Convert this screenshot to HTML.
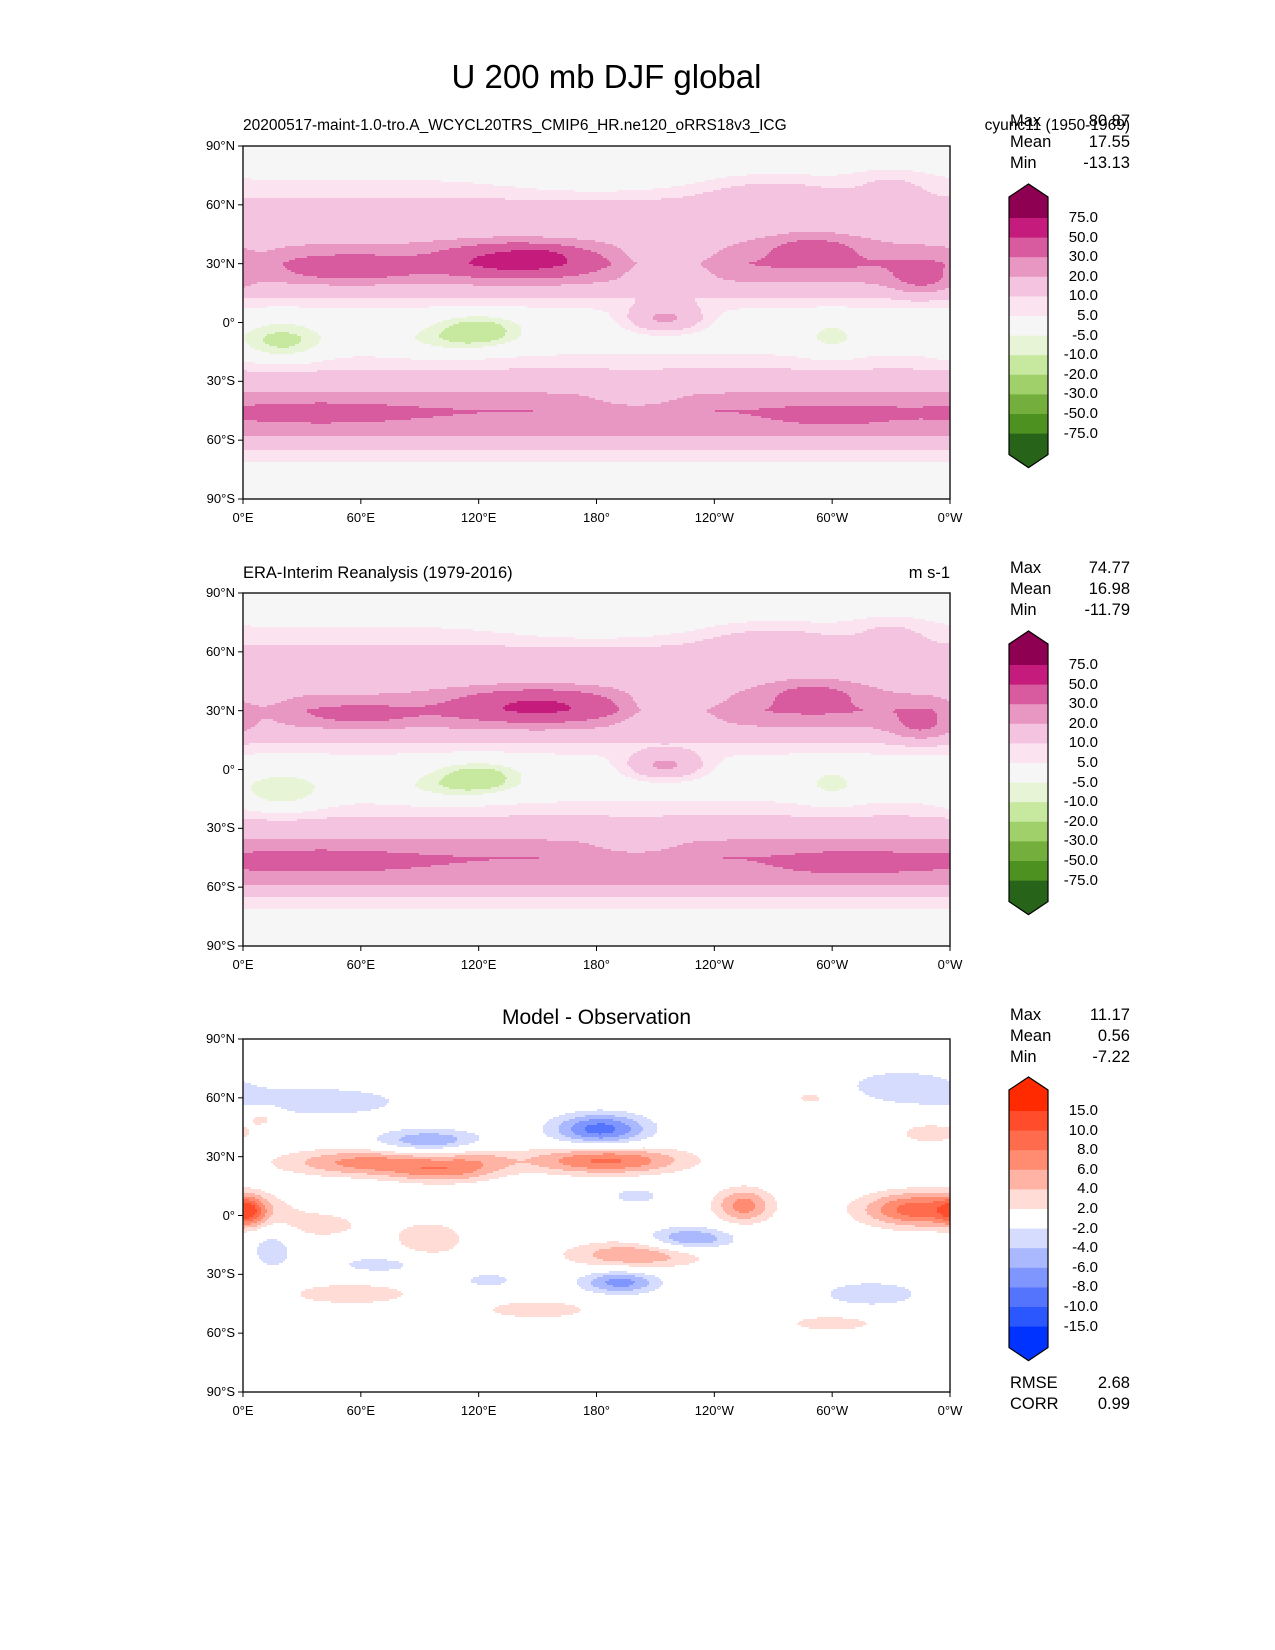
<!DOCTYPE html>
<html><head><meta charset="utf-8">
<style>
html,body{margin:0;padding:0;background:#fff;overflow:hidden;width:1275px;height:1650px}
#root{position:relative;width:1275px;height:1650px;font-family:"Liberation Sans","DejaVu Sans",sans-serif;color:#000;overflow:hidden}
.t{position:absolute;white-space:nowrap}
.tl{font-size:13px}
</style></head><body>
<div id="root">
<svg id="maps" width="1275" height="1650" style="position:absolute;left:0;top:0"></svg>
<svg id="ov" width="1275" height="1650" style="position:absolute;left:0;top:0"></svg>
<div class="t" style="left:0;width:1213px;text-align:center;top:58px;font-size:33px">U 200 mb DJF global</div>
<div class="t" style="left:243px;top:117px;font-size:15.5px">20200517-maint-1.0-tro.A_WCYCL20TRS_CMIP6_HR.ne120_oRRS18v3_ICG</div>
<div class="t" style="right:145px;top:117px;font-size:15.5px">cyunc11 (1950-1969)</div>
<div class="t" style="left:243px;top:564px;font-size:16.5px">ERA-Interim Reanalysis (1979-2016)</div>
<div class="t" style="right:325px;top:564px;font-size:16.5px">m s-1</div>
<div class="t" style="left:0;width:1193px;text-align:center;top:1006px;font-size:21px">Model - Observation</div>
<div>
<div class="t" style="left:1010px;top:111px;font-size:16.5px;line-height:21px">Max<br>Mean<br>Min</div>
<div class="t" style="right:145px;top:111px;font-size:16.5px;line-height:21px;text-align:right">80.87<br>17.55<br>-13.13</div></div>
<div>
<div class="t" style="left:1010px;top:558px;font-size:16.5px;line-height:21px">Max<br>Mean<br>Min</div>
<div class="t" style="right:145px;top:558px;font-size:16.5px;line-height:21px;text-align:right">74.77<br>16.98<br>-11.79</div></div>
<div>
<div class="t" style="left:1010px;top:1005px;font-size:16.5px;line-height:21px">Max<br>Mean<br>Min</div>
<div class="t" style="right:145px;top:1005px;font-size:16.5px;line-height:21px;text-align:right">11.17<br>0.56<br>-7.22</div></div>
<div>
<div class="t" style="left:1010px;top:1373px;font-size:16.5px;line-height:21px">RMSE<br>CORR</div>
<div class="t" style="right:145px;top:1373px;font-size:16.5px;line-height:21px;text-align:right">2.68<br>0.99</div></div>
</div>
<script>
// ---- data ----
var lvlA=[-75,-50,-30,-20,-10,-5,5,10,20,30,50,75];
var colA=["#276419","#4d9221","#74ae3c","#9fd06a","#c7e89f","#e8f4d6","#f6f6f6","#fbe3f0","#f4c3df","#e897c3","#d75b9e","#c51b7d","#8e0152"];
var lvlD=[-15,-10,-8,-6,-4,-2,2,4,6,8,10,15];
var colD=["#0033ff","#2b57ff","#5574fe","#7f96fe","#aab8fe","#d6dcfe","#ffffff","#ffdcd6","#ffb3a5","#ff8c70","#ff6b4d","#ff4d2b","#ff2a00"];
var zLat=[90,80,70,60,45,35,30,22,12,5,0,-8,-15,-25,-35,-45,-52,-60,-66,-72,-80,-90];
var zVal1=[0,2,6,12,15,24,30,22,9,3,1,1,4,11,19,30,27,17,9,4,2,0];
var zVal2=[0,2,6,12,15,22,28,20,8,3,1,1,4,11,19,30,28,18,9,4,2,0];
var zVal0=[0,0,0,0,0,0,0,0,0,0,0,0,0,0,0,0,0,0,0,0,0,0];
var b1Lon=[140,150,55,215,290,345,20,120,215,200,40,300,10,300,100,180,270,330];
var b1Lat=[32,34,28,30,38,22,-10,-4,2,-38,-45,-8,30,-47,-10,75,65,70];
var b1Amp=[35,15,18,-16,16,14,-14,-15,20,-10,6,-8,-6,6,-6,-8,8,6];
var b1Sx=[35,12,30,25,25,15,22,22,20,20,50,15,15,30,30,40,30,20];
var b1Sy=[8,3,6,10,8,8,10,8,7,7,7,10,8,6,8,8,8,8];
var b2Lon=[150,60,215,290,345,20,120,215,200,40,300,10,310,100,180,270,330];
var b2Lat=[33,28,30,38,22,-12,-4,2,-38,-45,-8,30,-47,-10,75,65,70];
var b2Amp=[30,12,-16,17,13,-12,-15,20,-10,6,-8,-6,8,-6,-8,8,6];
var b2Sx=[40,25,25,25,15,22,22,20,20,50,15,15,30,30,40,30,20];
var b2Sy=[8,5,10,8,8,10,8,7,7,7,10,8,6,8,8,8,8];
var dLon=[182,95,40,335,228,192,320,15,200,65,185,345,255,3,200,150,55,300,350,95,100,10,125,120,40,70,290];
var dLat=[44,38,58,66,-12,-34,-40,-17,10,27,28,3,5,2,-20,-48,-40,-55,42,-12,22,50,-33,28,-5,-25,60];
var dAmp=[-9,-6,-3.2,-3.4,-6.5,-7,-3.5,-3.2,-3.5,7,8.5,9.5,7,5.5,6,3,3.5,3,3.2,3.5,4.5,3,-3,3,2.8,-3,2.5];
var dSx=[24,28,50,30,22,20,28,12,12,45,40,30,15,8,35,35,35,28,18,20,25,10,15,20,25,25,15];
var dSy=[8,6,9,9,6,6,7,12,4,7,7,9,9,8,7,6,6,5,6,10,6,5,4,8,8,5,5];
var latTicks=["90°N","60°N","30°N","0°","30°S","60°S","90°S"];
var lonTicks=["0°E","60°E","120°E","180°","120°W","60°W","0°W"];

var PL=243,PW=707,PH=353;
var panelList=[
 {ptop:146,zv:zVal1,bLon:b1Lon,bLat:b1Lat,bAmp:b1Amp,bSx:b1Sx,bSy:b1Sy,lv:lvlA,cl:colA,nm:"model"},
 {ptop:593,zv:zVal2,bLon:b2Lon,bLat:b2Lat,bAmp:b2Amp,bSx:b2Sx,bSy:b2Sy,lv:lvlA,cl:colA,nm:"obs"},
 {ptop:1039,zv:zVal0,bLon:dLon,bLat:dLat,bAmp:dAmp,bSx:dSx,bSy:dSy,lv:lvlD,cl:colD,nm:"diff"}];
var rootEl=document.getElementById('root');
var mapsEl=document.getElementById('maps');
var ovEl=document.getElementById('ov');
var NS='http://www.w3.org/2000/svg';
function zonalVal(pp,la){
  for(var i=0;i<zLat.length-1;i++){
    if(la<=zLat[i]&&la>=zLat[i+1]){var f=(zLat[i]-la)/(zLat[i]-zLat[i+1]);return pp.zv[i]+f*(pp.zv[i+1]-pp.zv[i]);}
  }
  return 0;
}
function fieldVal(pp,lo,la){
  var s=zonalVal(pp,la);
  for(var i=0;i<pp.bLon.length;i++){
    var dl=lo-pp.bLon[i];if(dl>180)dl-=360;if(dl<-180)dl+=360;
    var ax=dl/pp.bSx[i],ay=(la-pp.bLat[i])/pp.bSy[i];
    s+=pp.bAmp[i]*Math.exp(-(ax*ax+ay*ay));
  }
  if(!isFinite(s))s=0;
  return s;
}
function levelIndex(pp,v){var k=0;while(k<pp.lv.length&&v>=pp.lv[k])k++;return k;}
function mk(parent,tag,attrs){var e=document.createElementNS(NS,tag);for(var k in attrs)e.setAttribute(k,attrs[k]);parent.appendChild(e);return e;}
function mkDiv(cls,txt,css){var d=document.createElement('div');d.className=cls;d.textContent=txt;d.style.cssText=css;rootEl.appendChild(d);return d;}

for(var pi=0;pi<panelList.length;pi++){
  var pp=panelList[pi];
  var grp=mk(mapsEl,'g',{});
  
  
  var step=2;
  for(var yy=0;yy<PH;yy+=step){
    var la=90-(yy+1)/PH*180;
    var runStart=0,runK=-1;
    for(var xx=0;;xx+=step){
      var endRow=(xx>=PW);
      var k=-2;
      if(!endRow){var lo=(xx+1)/PW*360;k=levelIndex(pp,fieldVal(pp,lo,la));}
      if(k!==runK){
        if(runK>=0){var xe=Math.min(xx,PW);mk(grp,'rect',{x:PL+runStart,y:pp.ptop+yy,width:xe-runStart+0.6,height:Math.min(step+0.6,PH-yy),fill:pp.cl[runK]});}
        runStart=xx;runK=k;
      }
      if(endRow)break;
    }
  }
  var frame=mk(ovEl,'rect',{x:PL,y:pp.ptop,width:PW,height:PH,fill:'none',stroke:'#222','stroke-width':1.5});
  
  
  for(var i=0;i<latTicks.length;i++){
    var ty=pp.ptop+i*PH/6;
    mk(ovEl,'line',{x1:PL-5,x2:PL,y1:ty,y2:ty,stroke:'#000','stroke-width':1});
    var d=mkDiv('t tl',latTicks[i],'right:'+(1275-PL+8)+'px;top:'+(ty-8)+'px');
    
    
  }
  for(var i=0;i<lonTicks.length;i++){
    var tx=PL+i*PW/6;
    mk(ovEl,'line',{x1:tx,x2:tx,y1:pp.ptop+PH,y2:pp.ptop+PH+5,stroke:'#000','stroke-width':1});
    var d=mkDiv('t tl',lonTicks[i],'left:'+(tx-40)+'px;width:80px;text-align:center;top:'+(pp.ptop+PH+11)+'px');
    
    
  }
  var seg=19.6,cbx=1009,cbw=39,b0=pp.ptop+72,n=pp.lv.length,ybot=b0+(n-1)*seg;
  var cb=mk(ovEl,'g',{});
  
  
  var nc=pp.cl.length;
  mk(cb,'polygon',{points:cbx+','+(b0-21)+' '+(cbx+cbw/2)+','+(b0-34)+' '+(cbx+cbw)+','+(b0-21)+' '+(cbx+cbw)+','+b0+' '+cbx+','+b0,fill:pp.cl[nc-1]});
  for(var k=1;k<nc-1;k++){mk(cb,'rect',{x:cbx,y:b0+(k-1)*seg,width:cbw,height:seg+0.5,fill:pp.cl[nc-1-k]});}
  mk(cb,'polygon',{points:cbx+','+ybot+' '+(cbx+cbw)+','+ybot+' '+(cbx+cbw)+','+(ybot+21)+' '+(cbx+cbw/2)+','+(ybot+34)+' '+cbx+','+(ybot+21),fill:pp.cl[0]});
  mk(cb,'polygon',{points:cbx+','+(b0-21)+' '+(cbx+cbw/2)+','+(b0-34)+' '+(cbx+cbw)+','+(b0-21)+' '+(cbx+cbw)+','+(ybot+21)+' '+(cbx+cbw/2)+','+(ybot+34)+' '+cbx+','+(ybot+21),fill:'none',stroke:'#000','stroke-width':1.2});
  for(var k=0;k<n;k++){
    var d=mkDiv('t',pp.lv[n-1-k].toFixed(1),'font-size:15px;right:'+(1275-1098)+'px;top:'+(b0+k*seg-9)+'px');
    
    
  }
}
</script>
</body></html>
